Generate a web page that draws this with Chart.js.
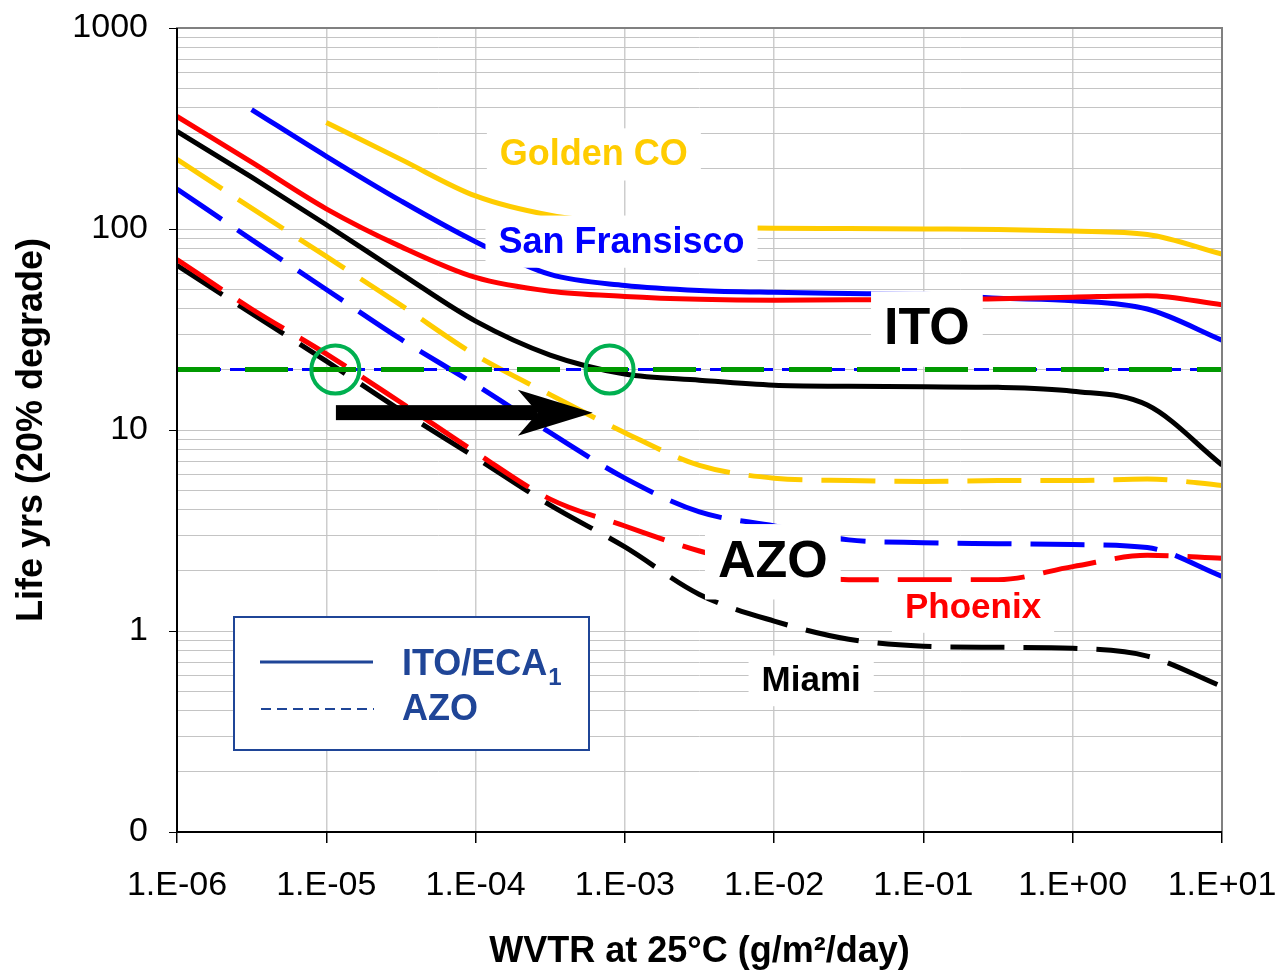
<!DOCTYPE html>
<html>
<head>
<meta charset="utf-8">
<script src="https://cdn.jsdelivr.net/npm/chart.js@4.4.1/dist/chart.umd.min.js"></script>
<style>
  body { margin: 0; background: #fff; }
  canvas { display: block; }
</style>
</head>
<body>
<canvas id="life-chart" width="1279" height="974"></canvas>
<script>
// WVTR (g/m2/day), half decade steps
var wvtr = [1e-6, 3.16e-6, 1e-5, 3.16e-5, 1e-4, 3.16e-4, 1e-3, 3.16e-3, 1e-2, 3.16e-2, 1e-1, 3.16e-1, 1, 3.16, 10];

// ITO/ECA1 life (yrs)
var itoGolden  = [null, null, 339, 222, 146, 117, 106, 102, 101, 100.5, 100, 99.5, 97.7, 94, 75];
var itoSanFran = [null, 393, 230, 138, 86.5, 59.4, 52.4, 49.5, 48.4, 47.8, 47.3, 45.3, 44, 40, 28];
var itoPhoenix = [363, 215, 126, 81.7, 57.4, 49, 46.2, 44.7, 44.2, 44.5, 44.5, 45, 45.8, 46.6, 42];
var itoMiami   = [306, 181, 105, 60, 34.8, 23.6, 19, 17.7, 16.7, 16.5, 16.4, 16.3, 15.6, 13.3, 6.7];

// AZO life (yrs)
var azoGolden  = [222, 127, 73, 41.8, 23.6, 15, 9.7, 6.67, 5.76, 5.6, 5.55, 5.6, 5.6, 5.7, 5.3];
var azoSanFran = [158, 88.6, 50, 28.3, 16.8, 9.7, 5.76, 3.91, 3.33, 2.84, 2.75, 2.72, 2.69, 2.6, 1.87];
var azoPhoenix = [70.5, 40, 23.9, 13.7, 7.74, 4.53, 3.33, 2.5, 2.05, 1.8, 1.8, 1.8, 2.09, 2.38, 2.3];
var azoMiami   = [66, 38, 22, 12.5, 7.3, 4.23, 2.62, 1.52, 1.12, 0.91, 0.84, 0.83, 0.82, 0.75, 0.53];

// 20 yr target line and the two crossings
var targetX = [1e-6, 10];
var targetY = [20, 20];
var crossX = [1.15e-5, 7.9e-4];
var crossY = [20, 20];

// arrow from ITO crossing to AZO crossing
var arrowX = [1.16e-5, 6.1e-4];
var arrowY = 12.2;

var xTickLabels = ['1.E-06', '1.E-05', '1.E-04', '1.E-03', '1.E-02', '1.E-01', '1.E+00', '1.E+01'];
var yTickLabels = ['0', '1', '10', '100', '1000'];

var notes = [
  { text: 'Golden CO', x: 6.2e-4, y: 235, color: '#FFCC00', size: 36 },
  { text: 'San Fransisco', x: 9.5e-4, y: 86.5, color: '#0000FF', size: 36 },
  { text: 'ITO', x: 0.1055, y: 31.8, color: '#000000', size: 52 },
  { text: 'AZO', x: 9.8e-3, y: 2.21, color: '#000000', size: 52 },
  { text: 'Phoenix', x: 0.215, y: 1.31, color: '#FF0000', size: 35 },
  { text: 'Miami', x: 0.0177, y: 0.565, color: '#000000', size: 35 }
];
var legendNames = ['ITO/ECA', 'AZO'];

var FONT = "'Liberation Sans', Arial, sans-serif";
var LEGEND_BLUE = '#1F4597';

function pts(xs, ys) {
  return xs.map(function (x, i) { return { x: x, y: ys[i] }; });
}
function isDecade(v) {
  var l = Math.log10(v);
  return Math.abs(l - Math.round(l)) < 1e-6;
}
function isWhole(v) {
  var m = v / Math.pow(10, Math.floor(Math.log10(v) + 1e-9));
  return Math.abs(m - Math.round(m)) < 1e-6;
}

function solid(data, color) {
  return { data: pts(wvtr, data), borderColor: color, borderWidth: 5, pointRadius: 0, cubicInterpolationMode: 'monotone' };
}
function dashed(data, color) {
  return { data: pts(wvtr, data), borderColor: color, borderWidth: 5, borderDash: [54, 19], pointRadius: 0, cubicInterpolationMode: 'monotone' };
}

var overlay = {
  id: 'overlay',
  afterDatasetsDraw: function (chart) {
    var ctx = chart.ctx, xs = chart.scales.x, ys = chart.scales.y, a = chart.chartArea;
    ctx.save();

    // frame
    ctx.strokeStyle = '#808080';
    ctx.lineWidth = 2;
    ctx.strokeRect(a.left, a.top, a.right - a.left, a.bottom - a.top);
    ctx.strokeStyle = '#000';
    ctx.beginPath();
    ctx.moveTo(a.left, a.top); ctx.lineTo(a.left, a.bottom); ctx.lineTo(a.right, a.bottom);
    ctx.stroke();

    // arrow
    var x0 = xs.getPixelForValue(arrowX[0]), x1 = xs.getPixelForValue(arrowX[1]);
    var ya = ys.getPixelForValue(arrowY);
    ctx.fillStyle = '#000';
    ctx.fillRect(x0, ya - 7.5, x1 - 55 - x0, 15);
    ctx.beginPath();
    ctx.moveTo(x1, ya);
    ctx.lineTo(x1 - 75, ya - 23);
    ctx.lineTo(x1 - 55, ya);
    ctx.lineTo(x1 - 75, ya + 23);
    ctx.closePath();
    ctx.fill();

    // labels on white boxes
    ctx.textAlign = 'center';
    ctx.textBaseline = 'middle';
    notes.forEach(function (n) {
      ctx.font = 'bold ' + n.size + 'px ' + FONT;
      var px = xs.getPixelForValue(n.x), py = ys.getPixelForValue(n.y);
      var w = ctx.measureText(n.text).width + 26, h = n.size * 1.45;
      ctx.fillStyle = '#fff';
      ctx.fillRect(px - w / 2, py - h / 2, w, h);
      ctx.fillStyle = n.color;
      ctx.fillText(n.text, px, py + 1);
    });

    // legend box
    var lx = a.left + 57, ly = a.top + 589;
    ctx.fillStyle = '#fff';
    ctx.fillRect(lx, ly, 355, 133);
    ctx.strokeStyle = LEGEND_BLUE;
    ctx.lineWidth = 2;
    ctx.strokeRect(lx, ly, 355, 133);
    ctx.lineWidth = 3;
    ctx.beginPath();
    ctx.moveTo(lx + 26, ly + 45); ctx.lineTo(lx + 139, ly + 45);
    ctx.stroke();
    ctx.lineWidth = 2;
    ctx.setLineDash([10, 6]);
    ctx.beginPath();
    ctx.moveTo(lx + 27, ly + 92); ctx.lineTo(lx + 140, ly + 92);
    ctx.stroke();
    ctx.setLineDash([]);
    ctx.fillStyle = LEGEND_BLUE;
    ctx.textAlign = 'left';
    ctx.font = 'bold 36px ' + FONT;
    ctx.fillText(legendNames[0], lx + 168, ly + 48);
    var sw = ctx.measureText(legendNames[0]).width;
    ctx.fillText(legendNames[1], lx + 168, ly + 93);
    ctx.font = 'bold 24px ' + FONT;
    ctx.fillText('1', lx + 168 + sw + 1, ly + 61);

    ctx.restore();
  }
};

Chart.defaults.font.family = FONT;
Chart.defaults.color = '#000';

new Chart(document.getElementById('life-chart'), {
  type: 'line',
  data: {
    datasets: [
      { type: 'scatter', data: pts(crossX, crossY), showLine: false, pointRadius: 24, pointHoverRadius: 24,
        pointBorderWidth: 4, pointBorderColor: '#00B050', pointBackgroundColor: 'rgba(0,0,0,0)' },
      { data: pts(targetX, targetY), borderColor: '#009900', borderWidth: 5, borderDash: [43, 25], pointRadius: 0 },
      { data: pts(targetX, targetY), borderColor: '#0000FF', borderWidth: 3, borderDash: [15, 9], borderDashOffset: -5, pointRadius: 0 },
      dashed(azoPhoenix, '#FF0000'),
      dashed(azoMiami, '#000000'),
      dashed(azoSanFran, '#0000FF'),
      dashed(azoGolden, '#FFCC00'),
      solid(itoPhoenix, '#FF0000'),
      solid(itoSanFran, '#0000FF'),
      solid(itoGolden, '#FFCC00'),
      solid(itoMiami, '#000000')
    ]
  },
  options: {
    responsive: false,
    animation: false,
    layout: { padding: { left: 0, top: 23, right: 57, bottom: 0 } },
    plugins: { legend: { display: false }, tooltip: { enabled: false } },
    scales: {
      x: {
        type: 'logarithmic',
        min: 1e-6,
        max: 10,
        afterBuildTicks: function (axis) {
          axis.ticks = axis.ticks.filter(function (t) { return isDecade(t.value); });
        },
        afterFit: function (axis) {
          axis.height = 142;
          axis.paddingLeft = 0;
          axis.paddingRight = 0;
        },
        grid: { color: '#CDCDCD', lineWidth: 1.5, tickLength: 11, tickColor: '#000', tickWidth: 1.5 },
        border: { display: false },
        ticks: {
          autoSkip: false,
          maxRotation: 0,
          padding: 22,
          font: { size: 34 },
          callback: function (v) { return xTickLabels[Math.round(Math.log10(v)) + 6]; }
        },
        title: {
          display: true,
          text: 'WVTR at 25°C (g/m²/day)',
          font: { size: 36, weight: 'bold', lineHeight: 1.2 },
          padding: { top: 0, bottom: 0 }
        }
      },
      y: {
        type: 'logarithmic',
        min: 0.1,
        max: 1000,
        afterBuildTicks: function (axis) {
          axis.ticks = axis.ticks.filter(function (t) { return isWhole(t.value); });
        },
        afterFit: function (axis) {
          axis.width = 177;
          axis.paddingTop = 0;
          axis.paddingBottom = 0;
        },
        grid: {
          color: '#C4C4C4',
          lineWidth: 1,
          tickLength: 8,
          tickColor: function (c) { return c.tick && isDecade(c.tick.value) ? '#000' : 'rgba(0,0,0,0)'; }
        },
        border: { display: false },
        ticks: {
          autoSkip: false,
          padding: 21,
          font: { size: 34 },
          callback: function (v) { return isDecade(v) ? yTickLabels[Math.round(Math.log10(v)) + 1] : ''; }
        },
        title: {
          display: true,
          text: 'Life yrs (20% degrade)',
          font: { size: 36, weight: 'bold', lineHeight: 1.2 },
          padding: { top: 10, bottom: 0 }
        }
      }
    }
  },
  plugins: [overlay]
});
</script>
</body>
</html>
